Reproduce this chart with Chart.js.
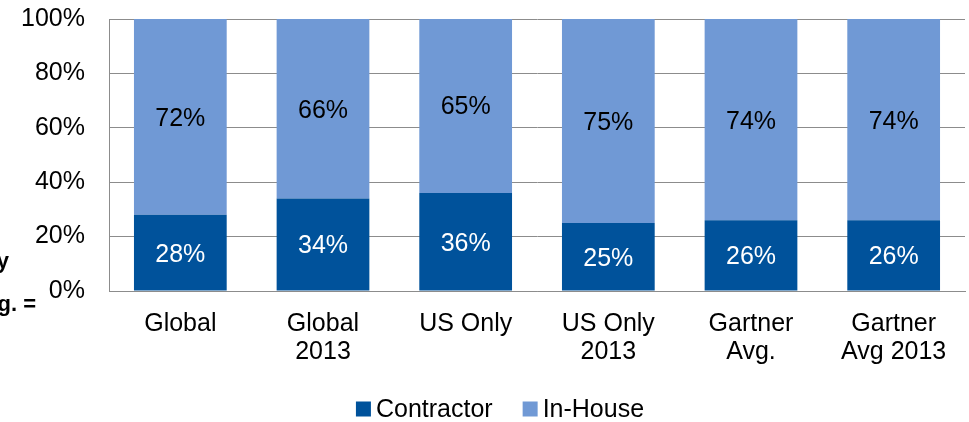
<!DOCTYPE html>
<html>
<head>
<meta charset="utf-8">
<script src="https://cdn.jsdelivr.net/npm/chart.js@4.4.1/dist/chart.umd.min.js"></script>
<style>
    html, body { margin: 0; padding: 0; background: #fff; }
    #wrap { width: 969px; height: 422px; }
</style>
</head>
<body>
<div id="wrap"><canvas id="chart" width="969" height="422"></canvas></div>
<script>
// chart data:
const categories = [['Global'], ['Global', '2013'], ['US Only'], ['US Only', '2013'], ['Gartner', 'Avg.'], ['Gartner', 'Avg 2013']];
const contractor = [28, 34, 36, 25, 26, 26];
const inHouse = [72, 66, 65, 75, 74, 74];
const yTicks = [0, 20, 40, 60, 80, 100];

const FONT = 'Liberation Sans, Arial, sans-serif';

// writes the % values in the middle of each bar piece:
const barLabels = {
    id: 'barLabels',
    afterDatasetsDraw(chart) {
        const ctx = chart.ctx;
        ctx.save();
        ctx.font = '25px ' + FONT;
        ctx.textAlign = 'center';
        ctx.textBaseline = 'middle';
        chart.data.datasets.forEach((ds, i) => {
            const meta = chart.getDatasetMeta(i);
            ctx.fillStyle = i === 0 ? '#ffffff' : '#000000';
            meta.data.forEach((bar, j) => {
                const mid = (bar.y + bar.base) / 2;
                ctx.fillText(ds.data[j] + '%', bar.x, mid + 2);
            });
        });
        ctx.restore();
    }
};

// legend drawn by hand so the box/text gaps match the picture:
const bottomLegend = {
    id: 'bottomLegend',
    afterDraw(chart) {
        const ctx = chart.ctx;
        const box = 15, gap = 5, spacing = 30, midY = 409;
        ctx.save();
        ctx.font = '25px ' + FONT;
        ctx.textBaseline = 'middle';
        const sets = chart.data.datasets;
        let total = 0;
        sets.forEach((ds, i) => {
            total += box + gap + ctx.measureText(ds.label).width + (i < sets.length - 1 ? spacing : 0);
        });
        let x = 500 - total / 2;
        sets.forEach(ds => {
            ctx.fillStyle = ds.backgroundColor;
            ctx.fillRect(x, midY - box / 2, box, box);
            x += box + gap;
            ctx.fillStyle = '#000';
            ctx.fillText(ds.label, x, midY + 1);
            x += ctx.measureText(ds.label).width + spacing;
        });
        ctx.restore();
    }
};

// the cut off bits of text on the left edge:
const leftScraps = {
    id: 'leftScraps',
    afterDraw(chart) {
        const ctx = chart.ctx;
        ctx.save();
        ctx.font = 'bold 22px ' + FONT;
        ctx.fillStyle = '#000';
        ctx.textAlign = 'right';
        ctx.textBaseline = 'middle';
        ctx.fillText('y', 9, 262);
        ctx.fillText('g. =', 36, 305);
        ctx.restore();
    }
};

new Chart(document.getElementById('chart'), {
    type: 'bar',
    data: {
        labels: categories,
        datasets: [{
            label: 'Contractor',
            data: contractor,
            backgroundColor: '#00529b',
            barPercentage: 0.65,
            categoryPercentage: 1
        }, {
            label: 'In-House',
            data: inHouse,
            backgroundColor: '#7099d5',
            barPercentage: 0.65,
            categoryPercentage: 1
        }]
    },
    options: {
        responsive: false,
        animation: false,
        layout: { padding: { top: 0, right: 4, left: 0, bottom: 45 } },
        plugins: {
            legend: { display: false },
            tooltip: { enabled: false }
        },
        scales: {
            x: {
                stacked: true,
                grid: { display: false, drawTicks: false },
                border: { color: '#8c8c8c', width: 1 },
                ticks: {
                    color: '#000',
                    padding: 19,
                    maxRotation: 0,
                    font: { family: FONT, size: 25, lineHeight: 1.12 }
                },
                afterFit(scale) { scale.height = 86; }
            },
            y: {
                stacked: true,
                min: 0,
                max: 100,
                afterBuildTicks(scale) { scale.ticks = yTicks.map(v => ({ value: v })); },
                grid: { color: '#8c8c8c', drawTicks: false },
                border: { color: '#8c8c8c', width: 1 },
                ticks: {
                    color: '#000',
                    padding: 24,
                    font: { family: FONT, size: 25 },
                    callback: v => v + '%'
                },
                afterFit(scale) {
                    scale.width = 109;
                    scale.paddingTop = 19;
                    scale.paddingBottom = 0;
                }
            }
        }
    },
    plugins: [barLabels, bottomLegend, leftScraps]
});
</script>
</body>
</html>
